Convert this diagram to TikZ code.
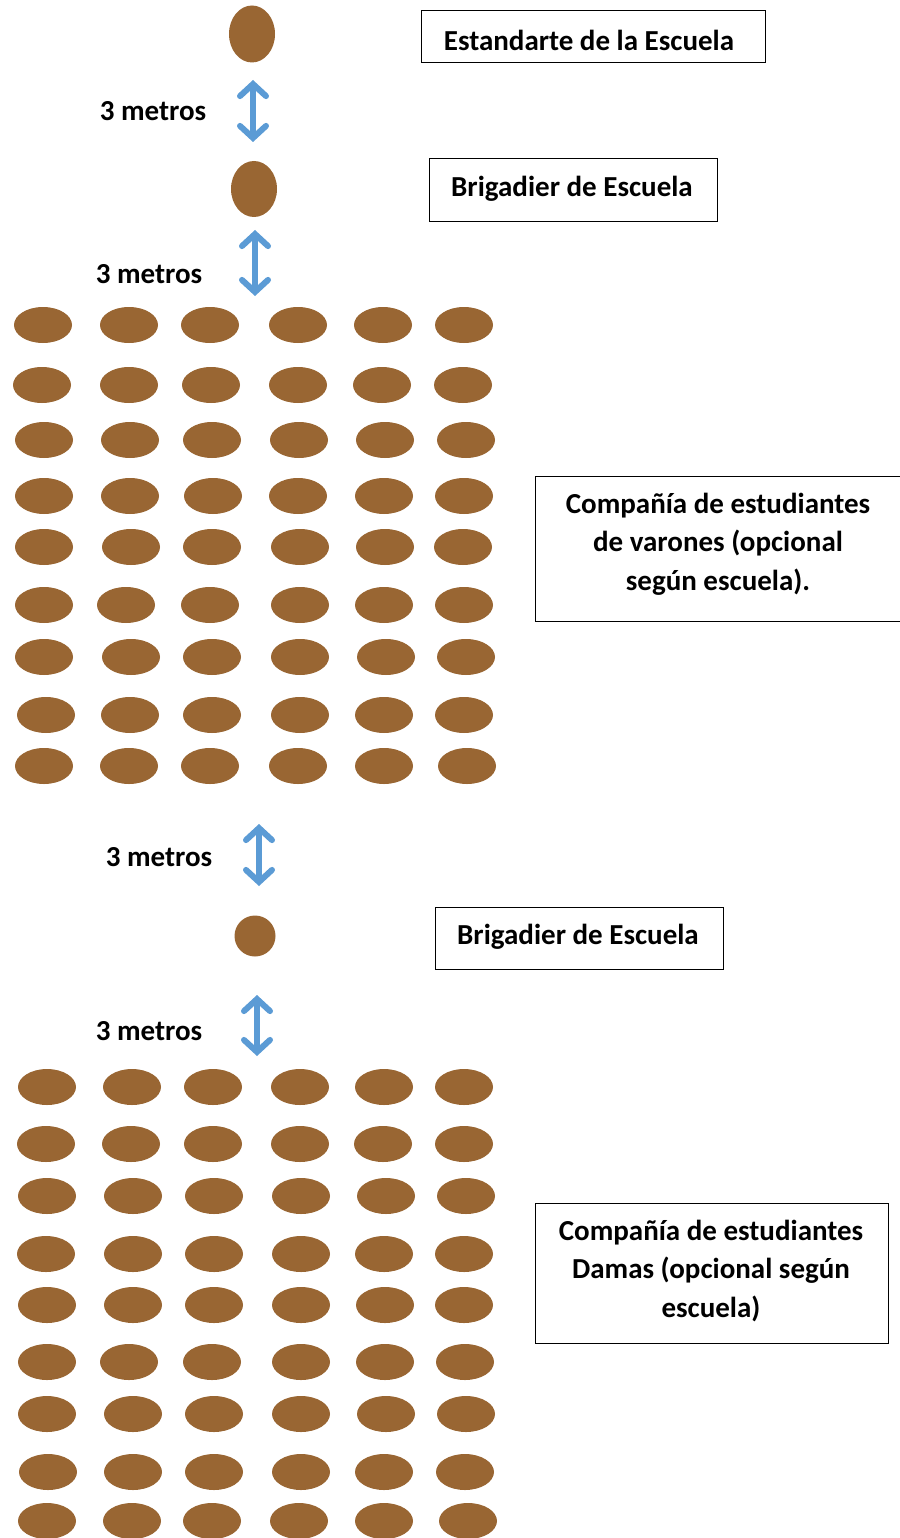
\documentclass[tikz,border=0pt]{standalone}
\usepackage{fontspec}
\setmainfont{Carlito}
\usetikzlibrary{shapes.geometric,arrows.meta}
\definecolor{brn}{HTML}{996633}
\definecolor{arrblue}{HTML}{5B9BD5}
\tikzset{
  pers/.style={ellipse,fill=brn,inner sep=0pt,minimum width=58pt,minimum height=36pt},
  lbl/.style={font=\fontsize{29}{38.5}\selectfont\bfseries,align=center},
  box/.style={draw=black,line width=1pt,inner sep=0pt},
  arr/.style={draw=arrblue,line width=6pt,{Straight Barb[length=12pt,width=26pt,line cap=round,line width=6pt]}-{Straight Barb[length=12pt,width=26pt,line cap=round,line width=6pt]}}
}
\begin{document}
\begin{tikzpicture}[x=1pt,y=-1pt]
\useasboundingbox (0,0) rectangle (899,1538);
% top
\node[pers,minimum width=46pt,minimum height=57pt] (e1) at (252,34) {};
\node[box,minimum width=344pt,minimum height=52pt] (b1) at (593,37) {};
\node[lbl] (t1) at (589,40) {Estandarte de la Escuela};
\coordinate (a1s) at (253,80);
\coordinate (a1e) at (253,142);
\draw[arr] (a1s) -- (a1e);
\node[lbl] (m1) at (153,111) {3 metros};
\node[pers,minimum width=46pt,minimum height=56pt] (e2) at (254,189) {};
\node[box,minimum width=288pt,minimum height=63pt] (b2) at (573,190.5) {};
\node[lbl] (t2) at (572,189) {Brigadier de Escuela};
\coordinate (a2s) at (255,230);
\coordinate (a2e) at (255,296);
\draw[arr] (a2s) -- (a2e);
\node[lbl] (m2) at (149,274) {3 metros};
% grid 1
\foreach \y/\xs in {325/{43,129,210,298,383,464},
                    385/{42,129,211,298,382,463},
                    440/{44,130,212,299,385,466},
                    496/{44,130,213,298,384,464},
                    547/{44,131,212,300,385,463},
                    605/{44,126,210,300,384,464},
                    657/{44,131,212,300,386,466},
                    715/{46,130,212,300,384,464},
                    766/{44,129,210,298,384,467}}{
  \foreach \x in \xs {\node[pers] (g1-\x-\y) at (\x,\y) {};}
}
\node[box,minimum width=366pt,minimum height=145pt] (b3) at (718,548.5) {};
\node[lbl] (t3) at (718,544) {Compañía de estudiantes\\de varones (opcional\\según escuela).};
% second brigadier
\coordinate (a3s) at (259,824);
\coordinate (a3e) at (259,886);
\draw[arr] (a3s) -- (a3e);
\node[lbl] (m3) at (159,857) {3 metros};
\node[pers,minimum width=41pt,minimum height=41pt] (e3) at (255,936) {};
\node[box,minimum width=288pt,minimum height=62pt] (b4) at (579,938.5) {};
\node[lbl] (t4) at (578,937) {Brigadier de Escuela};
\coordinate (a4s) at (257,995);
\coordinate (a4e) at (257,1056);
\draw[arr] (a4s) -- (a4e);
\node[lbl] (m4) at (149,1031) {3 metros};
% grid 2
\foreach \y/\xs in {1087/{47,132,213,300,384,464},
                    1144/{46,131,213,300,383,464},
                    1196/{47,133,214,301,386,466},
                    1254/{46,133,214,301,384,464},
                    1305/{47,133,214,301,385,464},
                    1362/{47,129,212,301,385,465},
                    1414/{47,133,214,301,386,466},
                    1472/{48,133,214,301,384,465},
                    1521/{47,132,212,299,384,468}}{
  \foreach \x in \xs {\node[pers] (g2-\x-\y) at (\x,\y) {};}
}
\node[box,minimum width=353pt,minimum height=140pt] (b5) at (711.5,1273) {};
\node[lbl] (t5) at (711,1271) {Compañía de estudiantes\\Damas (opcional según\\escuela)};
\end{tikzpicture}
\end{document}
